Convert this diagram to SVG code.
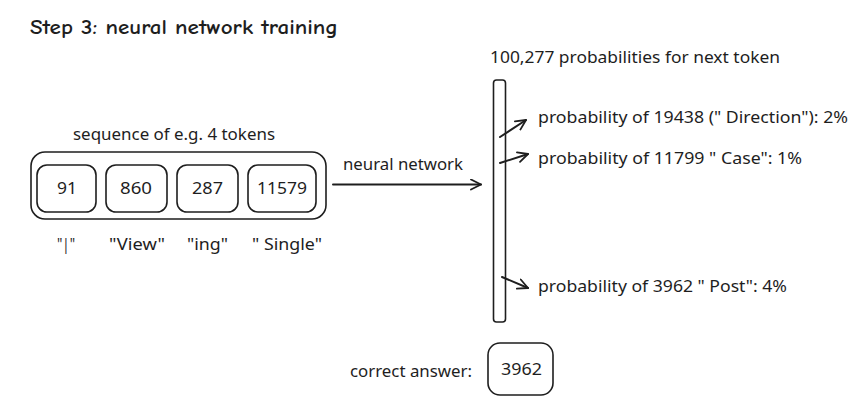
<svg xmlns="http://www.w3.org/2000/svg" width="857" height="405" viewBox="0 0 857 405">
<defs>
<style>
.t{font-family:"Noto Sans","Liberation Sans",sans-serif;font-size:16px;fill:#1e1e1e}
.b{fill:none;stroke:#1e1e1e;stroke-width:1.6}
.l{fill:none;stroke:#1e1e1e;stroke-width:2;stroke-linecap:round;stroke-linejoin:round}
</style>
<marker id="ah" viewBox="0 0 12 12" refX="11" refY="6" markerWidth="12" markerHeight="12" markerUnits="userSpaceOnUse" orient="auto">
<path d="M1,1 L11,6 L1,11" fill="none" stroke="#1e1e1e" stroke-width="1.8" stroke-linecap="round" stroke-linejoin="round"/>
</marker>
</defs>
<rect width="857" height="405" fill="#ffffff"/>
<text x="30" y="34" font-family="'Comic Neue','DejaVu Sans',sans-serif" font-size="20" font-weight="bold" fill="#1e1e1e" textLength="308" lengthAdjust="spacingAndGlyphs">Step 3: neural network training</text>

<g id="sequence">
<text class="t" x="73" y="140" textLength="202" lengthAdjust="spacingAndGlyphs">sequence of e.g. 4 tokens</text>
<rect class="b" x="31" y="152" width="295" height="67" rx="14"/>
</g>
<g id="tok1">
<rect class="b" x="37" y="165" width="59" height="47" rx="10"/>
<text class="t" x="57" y="194" textLength="20" lengthAdjust="spacingAndGlyphs">91</text>
<text class="t" x="57" y="250" textLength="18" lengthAdjust="spacingAndGlyphs">"|"</text>
</g>
<g id="tok2">
<rect class="b" x="106" y="165" width="61" height="47" rx="10"/>
<text class="t" x="120" y="194" textLength="32" lengthAdjust="spacingAndGlyphs">860</text>
<text class="t" x="109" y="250" textLength="56" lengthAdjust="spacingAndGlyphs">"View"</text>
</g>
<g id="tok3">
<rect class="b" x="177" y="165" width="61" height="47" rx="10"/>
<text class="t" x="192" y="194" textLength="31" lengthAdjust="spacingAndGlyphs">287</text>
<text class="t" x="187" y="250" textLength="41" lengthAdjust="spacingAndGlyphs">"ing"</text>
</g>
<g id="tok4">
<rect class="b" x="248" y="165" width="68" height="47" rx="10"/>
<text class="t" x="257" y="194" textLength="50" lengthAdjust="spacingAndGlyphs">11579</text>
<text class="t" x="252" y="250" textLength="70" lengthAdjust="spacingAndGlyphs">" Single"</text>
</g>

<g id="output">
<text class="t" x="490" y="63" textLength="290" lengthAdjust="spacingAndGlyphs">100,277 probabilities for next token</text>
<rect class="b" x="493.5" y="80" width="12" height="242" rx="3"/>
</g>
<g id="p1"><text class="t" x="538" y="123" textLength="310" lengthAdjust="spacingAndGlyphs">probability of 19438 (" Direction"): 2%</text></g>
<g id="p2"><text class="t" x="538" y="164" textLength="264" lengthAdjust="spacingAndGlyphs">probability of 11799 " Case": 1%</text></g>
<g id="p3"><text class="t" x="538" y="292" textLength="249" lengthAdjust="spacingAndGlyphs">probability of 3962 " Post": 4%</text></g>

<g id="answer">
<text class="t" x="350" y="377" textLength="122" lengthAdjust="spacingAndGlyphs">correct answer:</text>
<rect class="b" x="488" y="343" width="65" height="52" rx="12"/>
<text class="t" x="501" y="375" textLength="41" lengthAdjust="spacingAndGlyphs">3962</text>
</g>

<g id="connectors">
<text class="t" x="343" y="170" textLength="120" lengthAdjust="spacingAndGlyphs">neural network</text>
<line class="l" x1="333" y1="184.5" x2="481" y2="184.5" marker-end="url(#ah)"/>
<line class="l" x1="500" y1="137" x2="526" y2="120" marker-end="url(#ah)"/>
<line class="l" x1="500" y1="163" x2="528" y2="154" marker-end="url(#ah)"/>
<line class="l" x1="502" y1="277" x2="528" y2="288" marker-end="url(#ah)"/>
</g>
</svg>
